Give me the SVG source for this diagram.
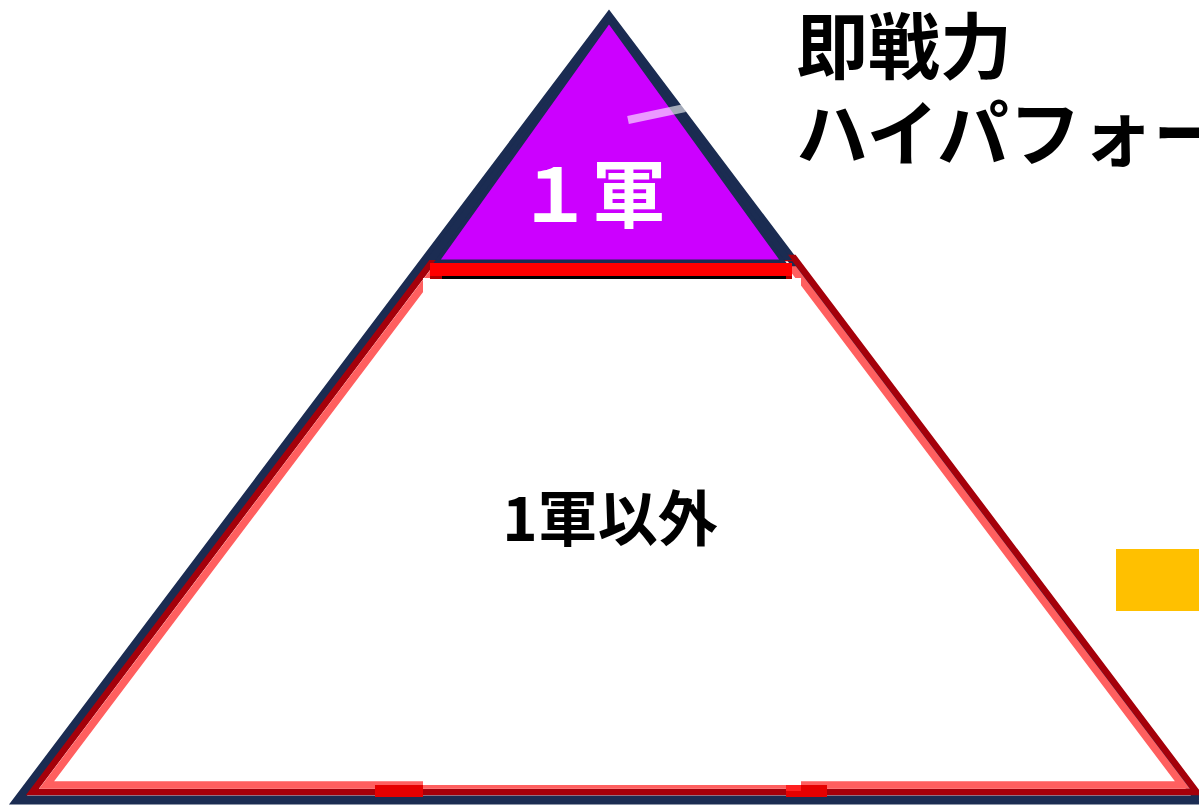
<svg xmlns="http://www.w3.org/2000/svg" width="1199" height="805" viewBox="0 0 1199 805">
  <style>
    .jp { font-family: "Noto Sans CJK JP", "Noto Sans", sans-serif; font-weight: bold; }
    .navy { stroke: #1B2C52; stroke-linejoin: miter; }
  </style>
  <rect x="0" y="0" width="1199" height="805" fill="#FFFFFF"/>

  <g id="pyramid-outline">
    <polygon class="navy" points="609,17 18,800 1200,800" fill="#FFFFFF" stroke-width="9"/>
  </g>

  <g id="tier-lower">
    <polygon points="435,258 794,258 1196.7,792 32.3,792" fill="none" stroke="#A5000A" stroke-width="6.5" stroke-linejoin="miter"/>
    <polygon points="435,270 794,270 1182.4,785 46.6,785" fill="none" stroke="#FF5F5F" stroke-width="7.5" stroke-linejoin="miter"/>
    <rect x="423" y="278" width="378" height="507" fill="#FFFFFF"/>
    <rect x="375" y="785" width="48" height="12" fill="#E60000"/>
    <rect x="786" y="785" width="41" height="12" fill="#E60000"/>
    <rect x="786" y="785" width="15" height="6" fill="#FF2020"/>
    <text class="jp" x="610" y="541" font-size="60" text-anchor="middle" fill="#000000">1軍以外</text>
  </g>

  <g id="tier-top">
    <polygon points="609,17 426,260 792,260" fill="#1B2C52"/>
    <polygon class="navy" points="609,21 437,261.5 783,261.5" fill="#CC00FF" stroke-width="4"/>
    <rect x="430" y="263" width="362" height="13" fill="#FF0000"/>
    <rect x="442" y="276" width="344" height="3" fill="#000000"/>
    <rect x="430" y="276" width="12" height="3" fill="#B00000"/>
    <rect x="786" y="276" width="6" height="3" fill="#B00000"/>
    <line x1="628" y1="120" x2="685" y2="108" stroke="#FFFFFF" stroke-opacity="0.6" stroke-width="8"/>
    <text class="jp" x="518" y="222" font-size="74" fill="#FFFFFF">１軍</text>
  </g>

  <g id="label-right">
    <text class="jp" x="796" y="73" font-size="72" fill="#000000">即戦力</text>
    <text class="jp" x="796" y="160" font-size="72" fill="#000000">ハイパフォー</text>
  </g>

  <g id="orange-box">
    <rect x="1116" y="549" width="90" height="62" fill="#FFC000"/>
  </g>

  <g id="connectors"/>
</svg>
